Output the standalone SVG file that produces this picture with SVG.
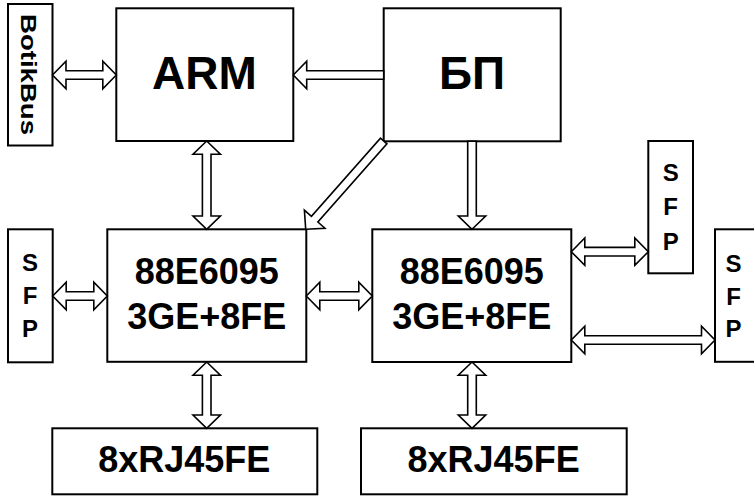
<svg xmlns="http://www.w3.org/2000/svg" width="754" height="496" viewBox="0 0 754 496">
<style>
.box{fill:#fff;stroke:#000;stroke-width:2}
.arr{fill:#fff;stroke:#000;stroke-width:1.6;stroke-linejoin:miter}
.t{font-family:"Liberation Sans",Arial,sans-serif;font-weight:bold;fill:#000;text-anchor:middle}
</style>
<rect width="754" height="496" fill="#fff"/>
<g id="botikbus">
<rect class="box" x="8" y="4" width="44.5" height="141.5"/>
<text class="t" font-size="22" transform="translate(21,74.5) rotate(90)" textLength="121" lengthAdjust="spacingAndGlyphs">BotikBus</text>
</g>
<g id="arm">
<rect class="box" x="116.3" y="8.3" width="177" height="132.7"/>
<text class="t" font-size="46" x="204.5" y="89.3">ARM</text>
</g>
<g id="bp">
<rect class="box" x="383.7" y="8.3" width="177" height="133"/>
<text class="t" font-size="46" x="472" y="89.3">БП</text>
</g>
<g id="sfp-top">
<rect class="box" x="648.3" y="141" width="44.7" height="132.3"/>
<text class="t" font-size="24" x="670.7" y="181">S</text>
<text class="t" font-size="24" x="670.7" y="215">F</text>
<text class="t" font-size="24" x="670.7" y="250">P</text>
</g>
<g id="sfp-left">
<rect class="box" x="8" y="229.3" width="44.7" height="133"/>
<text class="t" font-size="24" x="30" y="271">S</text>
<text class="t" font-size="24" x="30" y="303.5">F</text>
<text class="t" font-size="24" x="30" y="336.5">P</text>
</g>
<g id="switch1">
<rect class="box" x="107.3" y="229.3" width="199" height="132.5"/>
<text class="t" font-size="36" x="206.7" y="284.3">88E6095</text>
<text class="t" font-size="36" x="206.7" y="329.3">3GE+8FE</text>
</g>
<g id="switch2">
<rect class="box" x="372.3" y="229.3" width="199" height="132.7"/>
<text class="t" font-size="36" x="471.8" y="284.3">88E6095</text>
<text class="t" font-size="36" x="471.8" y="329.3">3GE+8FE</text>
</g>
<g id="sfp-right">
<rect class="box" x="715" y="229.3" width="45" height="132.5"/>
<text class="t" font-size="24" x="733.5" y="272">S</text>
<text class="t" font-size="24" x="733.5" y="304.5">F</text>
<text class="t" font-size="24" x="733.5" y="337">P</text>
</g>
<g id="rj45-1">
<rect class="box" x="52.3" y="428.3" width="265" height="66"/>
<text class="t" font-size="36" x="184.3" y="472">8xRJ45FE</text>
</g>
<g id="rj45-2">
<rect class="box" x="361" y="428.3" width="265.7" height="66"/>
<text class="t" font-size="36" x="493.6" y="472">8xRJ45FE</text>
</g>
<g id="connectors">
<!-- BotikBus <-> ARM -->
<path class="arr" d="M52.5,75 L66,61.3 L66,70.7 L102.8,70.7 L102.8,61.3 L116.3,75 L102.8,88.7 L102.8,79.3 L66,79.3 L66,88.7 Z"/>
<!-- BP -> ARM -->
<path class="arr" d="M293.3,75 L306.7,61.3 L306.7,70.7 L383.7,70.7 L383.7,79.3 L306.7,79.3 L306.7,88.7 Z"/>
<!-- ARM <-> switch1 -->
<path class="arr" d="M206.7,141 L220.4,154.3 L211,154.3 L211,216 L220.4,216 L206.7,229.3 L193,216 L202.4,216 L202.4,154.3 L193,154.3 Z"/>
<!-- BP -> switch2 -->
<path class="arr" d="M472,229.3 L485.7,216 L476.3,216 L476.3,141.3 L467.7,141.3 L467.7,216 L458.3,216 Z"/>
<!-- BP -> switch1 diagonal -->
<path class="arr" transform="translate(383.7,141) rotate(131.45)" d="M117.8,0 L104.3,-13.7 L104.3,-4.3 L0,-4.3 L0,4.3 L104.3,4.3 L104.3,13.7 Z"/>
<!-- SFP left <-> switch1 -->
<path class="arr" d="M52.7,296 L66.2,282.3 L66.2,291.7 L93.8,291.7 L93.8,282.3 L107.3,296 L93.8,309.7 L93.8,300.3 L66.2,300.3 L66.2,309.7 Z"/>
<!-- switch1 <-> switch2 -->
<path class="arr" d="M306.3,296 L319.8,282.3 L319.8,291.7 L358.8,291.7 L358.8,282.3 L372.3,296 L358.8,309.7 L358.8,300.3 L319.8,300.3 L319.8,309.7 Z"/>
<!-- switch2 <-> SFP top -->
<path class="arr" d="M571.3,251.7 L584.8,238 L584.8,247.4 L634.8,247.4 L634.8,238 L648.3,251.7 L634.8,265.4 L634.8,256 L584.8,256 L584.8,265.4 Z"/>
<!-- switch2 <-> SFP right -->
<path class="arr" d="M571.3,340 L584.8,326.3 L584.8,335.7 L701.5,335.7 L701.5,326.3 L715,340 L701.5,353.7 L701.5,344.3 L584.8,344.3 L584.8,353.7 Z"/>
<!-- switch1 <-> RJ45 -->
<path class="arr" d="M206.7,362 L220.4,375.3 L211,375.3 L211,415 L220.4,415 L206.7,428.3 L193,415 L202.4,415 L202.4,375.3 L193,375.3 Z"/>
<!-- switch2 <-> RJ45 -->
<path class="arr" d="M472,362 L485.7,375.3 L476.3,375.3 L476.3,415 L485.7,415 L472,428.3 L458.3,415 L467.7,415 L467.7,375.3 L458.3,375.3 Z"/>
</g>
</svg>
